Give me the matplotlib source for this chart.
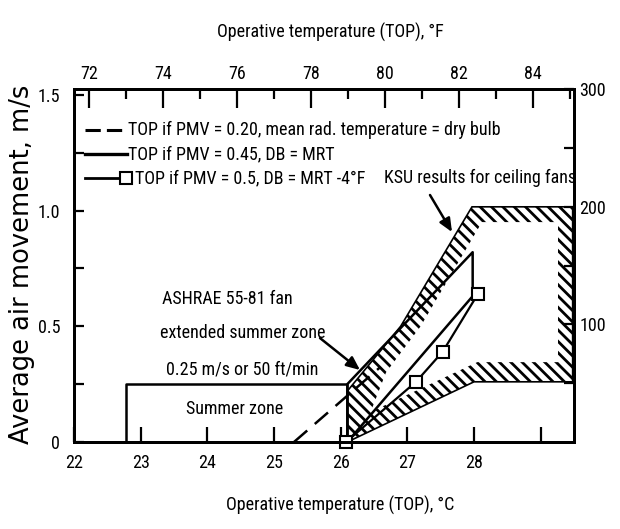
import numpy as np
import matplotlib
matplotlib.use("Agg")
import matplotlib.pyplot as plt
from matplotlib import font_manager
from matplotlib.patches import Polygon
from matplotlib.collections import LineCollection

# ---------------- data ----------------
x_ticks_c = [22, 23, 24, 25, 26, 27, 28, 29]
x_tick_labels_c = ["22", "23", "24", "25", "26", "27", "28", ""]
x_ticks_f = [72, 74, 76, 78, 80, 82, 84]
x_minor_f = [73, 75, 77, 79, 81, 83, 85]
y_ticks = [0, 0.5, 1.0, 1.5]
y_tick_labels = ["0", "0.5", "1.0", "1.5"]
y_ticks_fpm = [100, 200, 300]
y_minor_fpm = [50, 150, 250]

summer_temp = [22.78, 22.78, 26.1, 26.1]
summer_speed = [0.0, 0.25, 0.25, 0.0]

ashrae_temp = [26.1, 26.1, 27.98, 27.98, 26.1]
ashrae_speed = [0.0, 0.25, 0.82, 0.63, 0.0]

pmv020_temp = [25.3, 26.6]
pmv020_speed = [0.0, 0.325]

pmv05_temp = [26.08, 27.13, 27.53, 28.06]
pmv05_speed = [0.0, 0.26, 0.39, 0.64]

ksu_outer_temp = [26.1, 28.0, 29.48, 29.48, 27.97, 26.9, 26.1]
ksu_outer_speed = [0.0, 0.26, 0.26, 1.016, 1.016, 0.5, 0.22]
ksu_inner_temp = [26.45, 28.05, 29.26, 29.26, 28.12, 27.2, 26.68]
ksu_inner_speed = [0.13, 0.345, 0.345, 0.95, 0.95, 0.5, 0.3]

legend_labels = ["TOP if PMV = 0.20, mean rad. temperature = dry bulb",
                 "TOP if PMV = 0.45, DB = MRT",
                 "TOP if PMV = 0.5, DB = MRT -4°F"]

# ---------------- fonts ----------------
avail = {f.name for f in font_manager.fontManager.ttflist}
narrow = next((f for f in ["Liberation Sans Narrow", "DejaVu Sans Condensed",
                           "Roboto Condensed", "Liberation Sans"] if f in avail), "DejaVu Sans")
plt.rcParams['font.family'] = [narrow, 'DejaVu Sans']
FS = 13

W, H = 620, 529
fig = plt.figure(figsize=(6.2, 5.29), dpi=100)
ax = fig.add_axes([74 / W, 1 - 442 / H, 500 / W, 353 / H])
XL, YL = (22, 29.5), (0, 1.525)
ax.set_xlim(*XL)
ax.set_ylim(*YL)

for s in ax.spines.values():
    s.set_linewidth(2.0)

# ---------------- KSU hatched region ----------------
outer = list(zip(ksu_outer_temp, ksu_outer_speed))
inner = list(zip(ksu_inner_temp, ksu_inner_speed))
clip_patch = Polygon(outer, closed=True, facecolor='none', edgecolor='none',
                     transform=ax.transData)
ax.add_patch(clip_patch)
k = (500 / 7.5) / (353 / 1.525)      # 45 degrees on screen
step = 0.17 * k
segs = []
for c in np.arange(k * 3.5, 1.2 + k * 8.0, step):
    segs.append([(25.5, c - k * (25.5 - 22)), (30.0, c - k * (30.0 - 22))])
lc = LineCollection(segs, colors='black', linewidths=2.0, zorder=2)
lc.set_clip_path(clip_patch)
ax.add_collection(lc)
ax.add_patch(Polygon(inner, closed=True, facecolor='white', edgecolor='none', zorder=3))
ax.add_patch(Polygon(outer, closed=True, facecolor='none', edgecolor='black',
                     linewidth=1.2, zorder=4))

# ---------------- lines ----------------
ax.plot(summer_temp, summer_speed, color='black', lw=1.8, zorder=5)
ax.plot(ashrae_temp, ashrae_speed, color='black', lw=1.8, zorder=5)
ax.plot(pmv020_temp, pmv020_speed, color='black', lw=1.8, dashes=(7, 4), zorder=5)
ax.plot(pmv05_temp, pmv05_speed, color='black', lw=1.6, zorder=5)
ax.plot(pmv05_temp, pmv05_speed, linestyle='none', marker='s', markersize=8,
        mfc='white', mec='black', mew=1.5, zorder=6, clip_on=False)

# ---------------- legend (hand drawn) ----------------
ly = [0.884, 0.816, 0.748]
ax.plot([0.022, 0.106], [ly[0]] * 2, transform=ax.transAxes, color='black', lw=2.2,
        dashes=(5, 2))
ax.plot([0.022, 0.106], [ly[1]] * 2, transform=ax.transAxes, color='black', lw=2.4)
ax.plot([0.022, 0.1], [ly[2]] * 2, transform=ax.transAxes, color='black', lw=2.0)
ax.plot([0.104], [ly[2]], transform=ax.transAxes, marker='s', markersize=8,
        mfc='white', mec='black', mew=1.5)
ax.text(0.108, ly[0], legend_labels[0], transform=ax.transAxes, fontsize=FS, va='center')
ax.text(0.108, ly[1], legend_labels[1], transform=ax.transAxes, fontsize=FS, va='center')
ax.text(0.122, ly[2], legend_labels[2], transform=ax.transAxes, fontsize=FS, va='center')
ax.text(1.003, ly[2], "KSU results for ceiling fans", transform=ax.transAxes,
        fontsize=FS, va='center', ha='right')

# ---------------- annotations ----------------
ax.text(0.176, 0.405, "ASHRAE 55-81 fan", transform=ax.transAxes, fontsize=FS, va='center')
ax.text(0.172, 0.309, "extended summer zone", transform=ax.transAxes, fontsize=FS, va='center')
ax.text(0.184, 0.204, "0.25 m/s or 50 ft/min", transform=ax.transAxes, fontsize=FS, va='center')
ax.text(0.224, 0.093, "Summer zone", transform=ax.transAxes, fontsize=FS, va='center')

arrow = dict(arrowstyle='-|>,head_length=0.8,head_width=0.35', color='black', lw=1.8,
             shrinkA=0, shrinkB=0)
ax.annotate("", xy=(26.29, 0.311), xytext=(25.69, 0.449), arrowprops=arrow, zorder=7)
ax.annotate("", xy=(27.67, 0.907), xytext=(27.34, 1.067), arrowprops=arrow, zorder=7)

# ---------------- axes / ticks ----------------
ax.set_xticks(x_ticks_c)
ax.set_xticklabels(x_tick_labels_c)
ax.set_yticks(y_ticks)
ax.set_yticklabels(y_tick_labels)
ax.set_yticks([0.25, 0.75, 1.25], minor=True)
ax.tick_params(axis='x', direction='in', length=11, width=1.6, pad=9, labelsize=FS,
               top=False)
ax.tick_params(axis='y', which='both', direction='in', length=7, width=1.6, pad=10,
               labelsize=FS, right=False)


def f2c(f):
    return (np.asarray(f, dtype=float) - 32) * 5 / 9


axt = ax.twiny()
axt.set_xlim(*XL)
axt.set_xticks(f2c(x_ticks_f))
axt.set_xticklabels([str(v) for v in x_ticks_f])
axt.set_xticks(f2c(x_minor_f), minor=True)
axt.tick_params(which='minor', direction='in', length=7, width=1.6)
axt.tick_params(which='major', direction='in', length=14, width=1.6, pad=4, labelsize=FS)

axr = ax.twinx()
axr.set_ylim(YL[0] * 196.85, YL[1] * 196.85)
axr.set_yticks(y_ticks_fpm)
axr.set_yticks(y_minor_fpm, minor=True)
axr.tick_params(which='both', direction='in', length=7, width=1.6, pad=4, labelsize=FS)
for a in (axt, axr):
    for s in a.spines.values():
        s.set_linewidth(2.0)

fig.text(330 / W, 1 - 32 / H, "Operative temperature (TOP), °F", fontsize=FS,
         ha='center', va='center')
fig.text(340 / W, 1 - 505 / H, "Operative temperature (TOP), °C", fontsize=FS,
         ha='center', va='center')
fig.text(22 / W, 1 - 264 / H, "Average air movement, m/s", fontsize=18.5,
         family='DejaVu Sans', rotation=90, ha='center', va='center')

fig.savefig("out.png", dpi=100, facecolor='white')
